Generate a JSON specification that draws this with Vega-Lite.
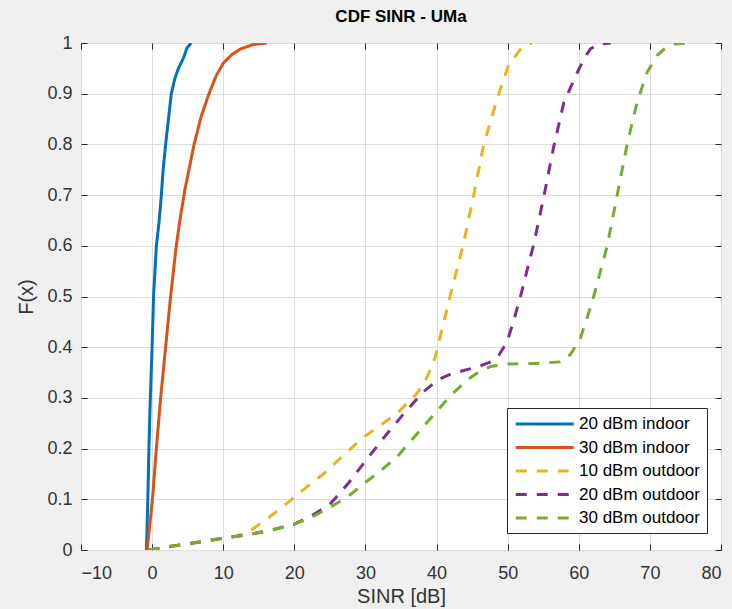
{
  "$schema": "https://vega.github.io/schema/vega-lite/v6.json",
  "width": 640,
  "height": 507,
  "autosize": {"type": "none"},
  "padding": {"left": 81, "top": 43, "right": 11, "bottom": 59},
  "background": "#f0f0f0",
  "title": {"text": "CDF SINR - UMa", "fontSize": 17, "fontWeight": "bold", "color": "#000000", "offset": 8, "anchor": "middle", "font": "Liberation Sans"},
  "config": {
    "font": "Liberation Sans",
    "view": {"stroke": "#262626", "strokeWidth": 1, "fill": "white"},
    "axis": {
      "domain": false,
      "gridColor": "#dcdcdc",
      "gridWidth": 1,
      "gridOpacity": 1,
      "tickColor": "#262626",
      "tickSize": -6,
      "tickWidth": 1,
      "labelFont": "Liberation Sans",
      "labelFontSize": 18,
      "labelColor": "#333333",
      "titleFont": "Liberation Sans",
      "titleFontSize": 20,
      "titleFontWeight": "normal",
      "titleColor": "#333333"
    }
  },
  "data": {
    "values": [
      {"s": "20 dBm indoor", "x": -0.8, "F": 0},
      {"s": "20 dBm indoor", "x": -0.6, "F": 0.1},
      {"s": "20 dBm indoor", "x": -0.45, "F": 0.2},
      {"s": "20 dBm indoor", "x": -0.25, "F": 0.3},
      {"s": "20 dBm indoor", "x": 0.0, "F": 0.4},
      {"s": "20 dBm indoor", "x": 0.2, "F": 0.5},
      {"s": "20 dBm indoor", "x": 0.6, "F": 0.6},
      {"s": "20 dBm indoor", "x": 1.0, "F": 0.65},
      {"s": "20 dBm indoor", "x": 1.3, "F": 0.7},
      {"s": "20 dBm indoor", "x": 1.55, "F": 0.75},
      {"s": "20 dBm indoor", "x": 1.9, "F": 0.8},
      {"s": "20 dBm indoor", "x": 2.3, "F": 0.85},
      {"s": "20 dBm indoor", "x": 2.7, "F": 0.9},
      {"s": "20 dBm indoor", "x": 3.2, "F": 0.93},
      {"s": "20 dBm indoor", "x": 3.7, "F": 0.95},
      {"s": "20 dBm indoor", "x": 4.4, "F": 0.97},
      {"s": "20 dBm indoor", "x": 4.9, "F": 0.99},
      {"s": "20 dBm indoor", "x": 5.5, "F": 1.0},

      {"s": "30 dBm indoor", "x": -0.7, "F": 0},
      {"s": "30 dBm indoor", "x": 0.05, "F": 0.1},
      {"s": "30 dBm indoor", "x": 0.6, "F": 0.2},
      {"s": "30 dBm indoor", "x": 1.2, "F": 0.3},
      {"s": "30 dBm indoor", "x": 1.9, "F": 0.4},
      {"s": "30 dBm indoor", "x": 2.6, "F": 0.5},
      {"s": "30 dBm indoor", "x": 3.4, "F": 0.6},
      {"s": "30 dBm indoor", "x": 3.9, "F": 0.65},
      {"s": "30 dBm indoor", "x": 4.6, "F": 0.71},
      {"s": "30 dBm indoor", "x": 5.9, "F": 0.8},
      {"s": "30 dBm indoor", "x": 6.9, "F": 0.855},
      {"s": "30 dBm indoor", "x": 8.0, "F": 0.9},
      {"s": "30 dBm indoor", "x": 9.0, "F": 0.935},
      {"s": "30 dBm indoor", "x": 10.0, "F": 0.96},
      {"s": "30 dBm indoor", "x": 11.2, "F": 0.977},
      {"s": "30 dBm indoor", "x": 12.4, "F": 0.988},
      {"s": "30 dBm indoor", "x": 14.2, "F": 0.997},
      {"s": "30 dBm indoor", "x": 16.1, "F": 1.0},

      {"s": "10 dBm outdoor", "x": -0.5, "F": 0},
      {"s": "10 dBm outdoor", "x": 2, "F": 0.006},
      {"s": "10 dBm outdoor", "x": 5, "F": 0.012},
      {"s": "10 dBm outdoor", "x": 10, "F": 0.023},
      {"s": "10 dBm outdoor", "x": 12, "F": 0.028},
      {"s": "10 dBm outdoor", "x": 13.8, "F": 0.038},
      {"s": "10 dBm outdoor", "x": 16.5, "F": 0.065},
      {"s": "10 dBm outdoor", "x": 19.4, "F": 0.097},
      {"s": "10 dBm outdoor", "x": 21.8, "F": 0.125},
      {"s": "10 dBm outdoor", "x": 24.1, "F": 0.15},
      {"s": "10 dBm outdoor", "x": 27, "F": 0.188},
      {"s": "10 dBm outdoor", "x": 29.7, "F": 0.222},
      {"s": "10 dBm outdoor", "x": 32, "F": 0.245},
      {"s": "10 dBm outdoor", "x": 34.4, "F": 0.269},
      {"s": "10 dBm outdoor", "x": 37.2, "F": 0.308},
      {"s": "10 dBm outdoor", "x": 38.3, "F": 0.33},
      {"s": "10 dBm outdoor", "x": 39.1, "F": 0.355},
      {"s": "10 dBm outdoor", "x": 39.8, "F": 0.38},
      {"s": "10 dBm outdoor", "x": 40.5, "F": 0.42},
      {"s": "10 dBm outdoor", "x": 41.2, "F": 0.46},
      {"s": "10 dBm outdoor", "x": 41.9, "F": 0.5},
      {"s": "10 dBm outdoor", "x": 43.8, "F": 0.605},
      {"s": "10 dBm outdoor", "x": 45.2, "F": 0.698},
      {"s": "10 dBm outdoor", "x": 46.6, "F": 0.797},
      {"s": "10 dBm outdoor", "x": 48.5, "F": 0.889},
      {"s": "10 dBm outdoor", "x": 50.1, "F": 0.955},
      {"s": "10 dBm outdoor", "x": 51.8, "F": 0.988},
      {"s": "10 dBm outdoor", "x": 52.5, "F": 0.996},
      {"s": "10 dBm outdoor", "x": 53.4, "F": 1.0},

      {"s": "20 dBm outdoor", "x": -0.5, "F": 0},
      {"s": "20 dBm outdoor", "x": 2, "F": 0.006},
      {"s": "20 dBm outdoor", "x": 5, "F": 0.012},
      {"s": "20 dBm outdoor", "x": 10, "F": 0.023},
      {"s": "20 dBm outdoor", "x": 13.8, "F": 0.031},
      {"s": "20 dBm outdoor", "x": 17, "F": 0.04},
      {"s": "20 dBm outdoor", "x": 20, "F": 0.051},
      {"s": "20 dBm outdoor", "x": 22.5, "F": 0.068},
      {"s": "20 dBm outdoor", "x": 25, "F": 0.09},
      {"s": "20 dBm outdoor", "x": 27.5, "F": 0.13},
      {"s": "20 dBm outdoor", "x": 29.7, "F": 0.17},
      {"s": "20 dBm outdoor", "x": 32.5, "F": 0.22},
      {"s": "20 dBm outdoor", "x": 35.4, "F": 0.269},
      {"s": "20 dBm outdoor", "x": 38, "F": 0.31},
      {"s": "20 dBm outdoor", "x": 40.1, "F": 0.335},
      {"s": "20 dBm outdoor", "x": 42, "F": 0.347},
      {"s": "20 dBm outdoor", "x": 43.8, "F": 0.354},
      {"s": "20 dBm outdoor", "x": 46, "F": 0.362},
      {"s": "20 dBm outdoor", "x": 47.6, "F": 0.371},
      {"s": "20 dBm outdoor", "x": 48.8, "F": 0.385},
      {"s": "20 dBm outdoor", "x": 49.9, "F": 0.41},
      {"s": "20 dBm outdoor", "x": 50.8, "F": 0.45},
      {"s": "20 dBm outdoor", "x": 51.8, "F": 0.5},
      {"s": "20 dBm outdoor", "x": 53.7, "F": 0.605},
      {"s": "20 dBm outdoor", "x": 55.1, "F": 0.698},
      {"s": "20 dBm outdoor", "x": 56.5, "F": 0.797},
      {"s": "20 dBm outdoor", "x": 57.9, "F": 0.883},
      {"s": "20 dBm outdoor", "x": 59.8, "F": 0.942},
      {"s": "20 dBm outdoor", "x": 60.8, "F": 0.97},
      {"s": "20 dBm outdoor", "x": 61.6, "F": 0.988},
      {"s": "20 dBm outdoor", "x": 62.8, "F": 0.998},
      {"s": "20 dBm outdoor", "x": 64.5, "F": 1.0},

      {"s": "30 dBm outdoor", "x": -0.5, "F": 0},
      {"s": "30 dBm outdoor", "x": 2, "F": 0.006},
      {"s": "30 dBm outdoor", "x": 5, "F": 0.012},
      {"s": "30 dBm outdoor", "x": 10, "F": 0.023},
      {"s": "30 dBm outdoor", "x": 13.8, "F": 0.031},
      {"s": "30 dBm outdoor", "x": 17, "F": 0.04},
      {"s": "30 dBm outdoor", "x": 20, "F": 0.051},
      {"s": "30 dBm outdoor", "x": 22.5, "F": 0.065},
      {"s": "30 dBm outdoor", "x": 25, "F": 0.084},
      {"s": "30 dBm outdoor", "x": 27.5, "F": 0.105},
      {"s": "30 dBm outdoor", "x": 29.7, "F": 0.13},
      {"s": "30 dBm outdoor", "x": 32, "F": 0.155},
      {"s": "30 dBm outdoor", "x": 34.4, "F": 0.183},
      {"s": "30 dBm outdoor", "x": 37, "F": 0.225},
      {"s": "30 dBm outdoor", "x": 40.1, "F": 0.275},
      {"s": "30 dBm outdoor", "x": 42, "F": 0.305},
      {"s": "30 dBm outdoor", "x": 44.3, "F": 0.335},
      {"s": "30 dBm outdoor", "x": 46, "F": 0.352},
      {"s": "30 dBm outdoor", "x": 47.6, "F": 0.362},
      {"s": "30 dBm outdoor", "x": 50, "F": 0.367},
      {"s": "30 dBm outdoor", "x": 54, "F": 0.368},
      {"s": "30 dBm outdoor", "x": 57.4, "F": 0.371},
      {"s": "30 dBm outdoor", "x": 58.8, "F": 0.385},
      {"s": "30 dBm outdoor", "x": 60.2, "F": 0.417},
      {"s": "30 dBm outdoor", "x": 61, "F": 0.45},
      {"s": "30 dBm outdoor", "x": 62.1, "F": 0.5},
      {"s": "30 dBm outdoor", "x": 64.0, "F": 0.6},
      {"s": "30 dBm outdoor", "x": 65.4, "F": 0.7},
      {"s": "30 dBm outdoor", "x": 66.8, "F": 0.8},
      {"s": "30 dBm outdoor", "x": 68.2, "F": 0.883},
      {"s": "30 dBm outdoor", "x": 69.6, "F": 0.942},
      {"s": "30 dBm outdoor", "x": 71, "F": 0.975},
      {"s": "30 dBm outdoor", "x": 72, "F": 0.988},
      {"s": "30 dBm outdoor", "x": 73.5, "F": 0.998},
      {"s": "30 dBm outdoor", "x": 75.7, "F": 1.0}
    ]
  },
  "layer": [
    {
      "mark": {"type": "line", "strokeWidth": 3, "clip": true},
      "encoding": {
        "x": {
          "field": "x", "type": "quantitative",
          "scale": {"domain": [-10, 80], "nice": false, "zero": false},
          "axis": {"orient": "bottom", "values": [-10, 0, 10, 20, 30, 40, 50, 60, 70, 80], "title": "SINR [dB]", "labelPadding": 20, "titlePadding": 4, "grid": true}
        },
        "y": {
          "field": "F", "type": "quantitative",
          "scale": {"domain": [0, 1], "nice": false},
          "axis": {"orient": "left", "values": [0, 0.1, 0.2, 0.3, 0.4, 0.5, 0.6, 0.7, 0.8, 0.9, 1], "format": ".1~f", "title": "F(x)", "labelPadding": 15, "titlePadding": 10, "grid": true}
        },
        "color": {
          "field": "s", "type": "nominal",
          "scale": {
            "domain": ["20 dBm indoor", "30 dBm indoor", "10 dBm outdoor", "20 dBm outdoor", "30 dBm outdoor"],
            "range": ["#0072BD", "#D95319", "#EDB120", "#7E2F8E", "#77AC30"]
          },
          "legend": {
            "title": null, "orient": "none", "legendX": 426, "legendY": 365,
            "direction": "vertical",
            "strokeColor": "#262626", "fillColor": "#ffffff", "padding": 7,
            "symbolType": "M-1,0H7", "symbolSize": 210, "symbolStrokeWidth": 3,
            "labelFontSize": 17, "labelColor": "#000000", "labelFont": "Liberation Sans",
            "labelOffset": 47, "rowPadding": 6.5
          }
        },
        "strokeDash": {
          "field": "s", "type": "nominal",
          "scale": {
            "domain": ["20 dBm indoor", "30 dBm indoor", "10 dBm outdoor", "20 dBm outdoor", "30 dBm outdoor"],
            "range": [[1, 0], [1, 0], [11, 10], [11, 10], [11, 10]]
          },
          "legend": {
            "title": null, "orient": "none", "legendX": 426, "legendY": 365,
            "direction": "vertical",
            "strokeColor": "#262626", "fillColor": "#ffffff", "padding": 7,
            "symbolType": "M-1,0H7", "symbolSize": 210, "symbolStrokeWidth": 3,
            "labelFontSize": 17, "labelColor": "#000000", "labelFont": "Liberation Sans",
            "labelOffset": 47, "rowPadding": 6.5
          }
        }
      }
    },
    {
      "mark": {"type": "point", "opacity": 0},
      "encoding": {
        "x": {
          "field": "x", "type": "quantitative",
          "scale": {"domain": [-10, 80], "nice": false, "zero": false},
          "axis": {"orient": "top", "values": [-10, 0, 10, 20, 30, 40, 50, 60, 70, 80], "labels": false, "grid": false, "title": null}
        },
        "y": {
          "field": "F", "type": "quantitative",
          "scale": {"domain": [0, 1], "nice": false},
          "axis": {"orient": "right", "values": [0, 0.1, 0.2, 0.3, 0.4, 0.5, 0.6, 0.7, 0.8, 0.9, 1], "labels": false, "grid": false, "title": null}
        }
      }
    }
  ],
  "resolve": {"axis": {"x": "independent", "y": "independent"}}
}
